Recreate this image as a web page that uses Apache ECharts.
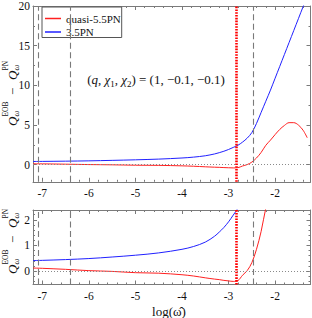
<!DOCTYPE html>
<html><head><meta charset="utf-8">
<script src="https://cdn.jsdelivr.net/npm/echarts@6/dist/echarts.min.js"></script>
<style>html,body{margin:0;padding:0;background:#fff}#c{width:312px;height:318px}</style>
</head><body><div id="c"></div>
<script>
// ---- data ----
const logOmega = [-7.2, -7.0, -6.5, -6.0, -5.5, -5.0, -4.5, -4.0, -3.75, -3.5, -3.3, -3.2, -3.1, -3.0, -2.9, -2.8, -2.7, -2.6, -2.5, -2.4, -2.3, -2.2, -2.1, -2.0, -1.9, -1.8, -1.7, -1.6, -1.5, -1.4, -1.31];
const quasi55PN = [0.12, 0.11, 0.07, 0.02, -0.01, -0.06, -0.08, -0.14, -0.19, -0.26, -0.31, -0.33, -0.36, -0.38, -0.40, -0.37, -0.16, 0.02, 0.33, 0.85, 1.55, 2.45, 3.1, 3.8, 4.45, 4.95, 5.3, 5.3, 5.0, 4.35, 3.4];
const pn35 = [0.41, 0.42, 0.45, 0.49, 0.55, 0.62, 0.71, 0.85, 0.96, 1.13, 1.36, 1.52, 1.70, 1.92, 2.18, 2.45, 2.85, 3.35, 4.05, 5.2, 6.6, 8.0, 9.4, 10.9, 12.4, 13.9, 15.4, 16.9, 18.4, 19.9, 21.2];
const seriesNames = ['quasi-5.5PN', '3.5PN'];
const xTickLabels = [-7, -6, -5, -4, -3, -2];
const yTopTickLabels = [0, 5, 10, 15, 20];
const yBottomTickLabels = [0, 1, 2];
const dashedLinesX = [-7.08, -6.39, -2.47];
const redDottedLineX = [-2.83];

// ---- helpers ----
function minorTicks(major, step, lo, hi) {
  const out = [];
  const start = Math.ceil((lo - 1e-9) / step);
  const end = Math.floor((hi + 1e-9) / step);
  for (let k = start; k <= end; k++) {
    const v = +(k * step).toFixed(6);
    if (!major.some(m => Math.abs(m - v) < 1e-6)) out.push(v);
  }
  return out;
}
const FONT = 'Times New Roman, Liberation Serif, DejaVu Serif, serif';
const FRAME = '#7a7a7a';
const RED = '#ff2020';
const BLUE = '#2020ff';
const X_MIN = -7.2, X_MAX = -1.24;
const xMinor = minorTicks(xTickLabels, 0.2, X_MIN, X_MAX);

const panels = [
  { top: 3.8, height: 178, yMin: -2.15, yMax: 20, yMajor: yTopTickLabels, yMinor: minorTicks(yTopTickLabels, 2.5, -2.15, 20) },
  { top: 210, height: 74.5, yMin: -0.52, yMax: 2.38, yMajor: yBottomTickLabels, yMinor: minorTicks(yBottomTickLabels, 0.2, -0.52, 2.38) }
];

function axis(kind, g, pos, vals, len, showLine, showLabel, min, max) {
  return {
    type: 'value', gridIndex: g, position: pos, min: min, max: max,
    splitLine: { show: false }, minorTick: { show: false },
    axisLine: { show: showLine, onZero: false, lineStyle: { color: FRAME, width: 1 } },
    axisTick: { show: true, inside: true, length: len, customValues: vals, lineStyle: { color: FRAME, width: 1 } },
    axisLabel: { show: showLabel, customValues: vals, margin: kind === 'x' ? 5 : 3,
      color: '#111', fontFamily: FONT, fontSize: 11.5 },
    axisPointer: { show: false }
  };
}

const grids = [], xAxes = [], yAxes = [], series = [];
panels.forEach((p, g) => {
  grids.push({ left: 33, width: 277.5, top: p.top, height: p.height, containLabel: false });
  xAxes.push(axis('x', g, 'bottom', xTickLabels, 4, true, true, X_MIN, X_MAX));
  xAxes.push(axis('x', g, 'bottom', xMinor, 2, false, false, X_MIN, X_MAX));
  xAxes.push(axis('x', g, 'top', xTickLabels, 4, true, false, X_MIN, X_MAX));
  xAxes.push(axis('x', g, 'top', xMinor, 2, false, false, X_MIN, X_MAX));
  yAxes.push(axis('y', g, 'left', p.yMajor, 4, true, true, p.yMin, p.yMax));
  yAxes.push(axis('y', g, 'left', p.yMinor, 2, false, false, p.yMin, p.yMax));
  yAxes.push(axis('y', g, 'right', p.yMajor, 4, true, false, p.yMin, p.yMax));
  yAxes.push(axis('y', g, 'right', p.yMinor, 2, false, false, p.yMin, p.yMax));
  const xi = g * 4, yi = g * 4;
  const mlData = [];
  dashedLinesX.forEach(x => mlData.push({ xAxis: x, lineStyle: { color: '#7a7a7a', width: 1.1, type: [6, 3.5] } }));
  mlData.push({ yAxis: 0, lineStyle: { color: '#8a8a8a', width: 1, type: [1, 2] } });
  redDottedLineX.forEach(x => mlData.push({ xAxis: x, lineStyle: { color: '#ff0000', width: 2.6, type: [1.6, 1.2] } }));
  series.push({
    type: 'line', name: seriesNames[0], xAxisIndex: xi, yAxisIndex: yi,
    data: logOmega.map((x, i) => [x, quasi55PN[i]]),
    showSymbol: false, symbol: 'none', smooth: 0.35, clip: true,
    lineStyle: { color: RED, width: 1 }, itemStyle: { color: RED }, z: 3,
    markLine: { silent: true, symbol: ['none', 'none'], label: { show: false }, animation: false, data: mlData, z: 4 }
  });
  series.push({
    type: 'line', name: seriesNames[1], xAxisIndex: xi, yAxisIndex: yi,
    data: logOmega.map((x, i) => [x, pn35[i]]),
    showSymbol: false, symbol: 'none', smooth: 0.35, clip: true,
    lineStyle: { color: BLUE, width: 1 }, itemStyle: { color: BLUE }, z: 3
  });
});

function yLabel(startY) {
  const t = (txt, lx, ly, size, italic) => ({
    type: 'text', x: lx, y: ly,
    style: { text: txt, fontFamily: FONT, fontSize: size, fontStyle: italic ? 'italic' : 'normal',
      fill: '#111', align: 'left', verticalAlign: 'middle', textAlign: 'left', textVerticalAlign: 'middle' }
  });
  return {
    type: 'group', x: 12.5, y: startY, rotation: Math.PI / 2, silent: true,
    children: [
      t('Q', 0, 0, 13, true),
      t('ω', 9.5, 3.8, 8.5, true),
      t('EOB', 9.5, -6.8, 7.5, false),
      t('−', 31, 0, 13, false),
      t('Q', 46, 0, 13, true),
      t('ω', 55.5, 3.8, 8.5, true),
      t('PN', 55.5, -6.8, 7.5, false)
    ]
  };
}

const option = {
  animation: false,
  backgroundColor: '#fff',
  textStyle: { fontFamily: FONT },
  grid: grids, xAxis: xAxes, yAxis: yAxes, series: series,
  legend: {
    data: seriesNames, orient: 'vertical', left: 42, top: 7,
    icon: 'rect', itemWidth: 16, itemHeight: 1.5, itemGap: 2.5,
    padding: [6, 1, 0, 3], borderColor: '#555', borderWidth: 1, backgroundColor: '#fff',
    textStyle: { fontFamily: FONT, fontSize: 11, color: '#111' }, selectedMode: false
  },
  graphic: [
    {
      type: 'text', x: 156, y: 79, silent: true,
      style: {
        text: '{n|(}{i|q}{n|, }{i|χ}{s|1}{n|, }{i|χ}{s|2}{n|) = (1, −0.1, −0.1)}',
        fontFamily: FONT,
        align: 'center', verticalAlign: 'middle', textAlign: 'center', textVerticalAlign: 'middle',
        rich: {
          n: { fontFamily: FONT, fontSize: 13, fill: '#111', lineHeight: 18 },
          i: { fontFamily: FONT, fontSize: 13, fontStyle: 'italic', fill: '#111', lineHeight: 18 },
          s: { fontFamily: FONT, fontSize: 9, fill: '#111', verticalAlign: 'bottom', lineHeight: 12 }
        }
      }
    },
    {
      type: 'text', x: 169, y: 311, silent: true,
      style: { text: 'log(ω\u0302)', fontFamily: FONT, fontSize: 13, fill: '#111',
        align: 'center', verticalAlign: 'middle', textAlign: 'center', textVerticalAlign: 'middle' }
    },
    yLabel(126),
    yLabel(274)
  ]
};

const chart = echarts.init(document.getElementById('c'), null, { renderer: 'svg', width: 312, height: 318 });
chart.setOption(option);
</script></body></html>
